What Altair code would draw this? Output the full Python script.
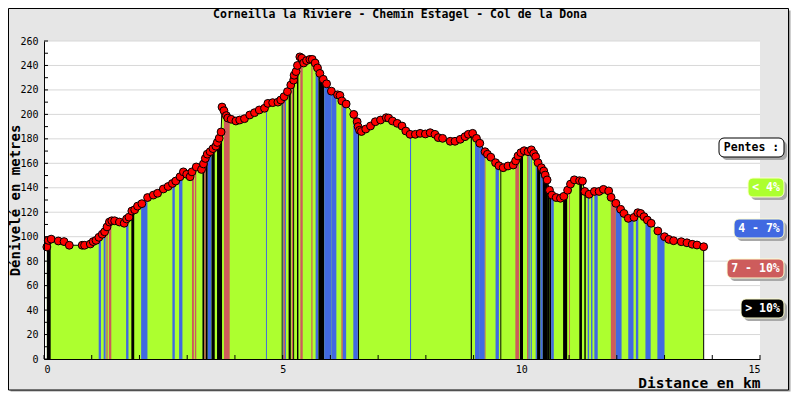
import altair as alt
import pandas as pd

# ---------------- data ----------------
dist_km = [0.06, 0.09, 0.15, 0.30, 0.42, 0.53, 0.80, 0.85, 0.97, 1.03, 1.09, 1.15, 1.22, 1.27, 1.32,
           1.37, 1.42, 1.48, 1.58, 1.68, 1.73, 1.78, 1.84, 1.90, 1.96, 2.05, 2.17, 2.29, 2.38, 2.50,
           2.60, 2.69, 2.76, 2.85, 2.92, 2.99, 3.06, 3.10, 3.19, 3.30, 3.34, 3.38, 3.42, 3.48, 3.54,
           3.60, 3.63, 3.67, 3.71, 3.73, 3.77, 3.82, 3.85, 3.92, 4.02, 4.10, 4.20, 4.31, 4.41, 4.51,
           4.62, 4.69, 4.79, 4.90, 4.96, 5.03, 5.10, 5.17, 5.23, 5.24, 5.28, 5.31, 5.36, 5.40, 5.44,
           5.50, 5.57, 5.62, 5.68, 5.73, 5.78, 5.85, 5.92, 6.02, 6.15, 6.20, 6.24, 6.33, 6.49, 6.56,
           6.58, 6.61, 6.65, 6.74, 6.84, 6.94, 7.05, 7.17, 7.22, 7.30, 7.40, 7.50, 7.58, 7.67, 7.78,
           7.88, 7.99, 8.09, 8.19, 8.26, 8.35, 8.51, 8.61, 8.72, 8.82, 8.89, 8.98, 9.06, 9.13, 9.24,
           9.29, 9.36, 9.46, 9.53, 9.62, 9.72, 9.83, 9.88, 9.93, 9.99, 10.06, 10.14, 10.21, 10.26, 10.30,
           10.35, 10.42, 10.47, 10.50, 10.54, 10.59, 10.64, 10.73, 10.82, 10.89, 10.97, 11.03, 11.11, 11.22, 11.28,
           11.33, 11.42, 11.53, 11.63, 11.72, 11.83, 11.88, 11.98, 12.08, 12.15, 12.24, 12.36, 12.44, 12.50, 12.57,
           12.64, 12.72, 12.86, 13.00, 13.09, 13.19, 13.35, 13.47, 13.58, 13.68, 13.82]
elev_m = [91.6, 97, 98, 96.5, 96, 93, 93, 93, 94, 96, 97, 99.5, 102, 104, 108,
          112, 113, 113, 112, 111, 114.5, 116, 121, 122, 125, 127, 132, 134, 135.5, 139,
          141, 143.5, 145.5, 149, 153, 151, 149, 153, 157, 155, 159.5, 164, 167.5, 169.5, 172,
          174, 177, 180.5, 185.6, 206, 203, 199, 197, 196, 194.6, 195.4, 196.5, 199.5, 201.4, 203.6,
          205, 209, 209.6, 210, 211.8, 214.5, 218.6, 224, 228, 232, 235, 240, 247, 246, 242,
          244, 245, 245, 242, 238, 233.5, 228.7, 225, 219, 216, 215.5, 211, 208.5, 200, 194,
          190, 187, 186, 188, 190.5, 194, 195.4, 197.3, 197, 194.6, 192.7, 190.5, 186.4, 183.7, 183.7,
          184.5, 184, 185, 183.7, 181, 180.4, 178, 178, 179.6, 181.8, 183.7, 184.5, 180.4, 176.4, 169.5,
          167.4, 165, 160.5, 158, 156.4, 157.8, 158.6, 162, 166, 168.7, 170.3, 169.5, 171, 168, 165.4,
          160.5, 156.4, 153.7, 150.4, 146.4, 138, 134, 132, 131.4, 133, 138, 143, 146.5, 145.8, 145.5,
          137, 134.7, 137, 137, 138.7, 137.4, 132.2, 127.3, 122.4, 119, 115, 115.8, 119.6, 119, 116.4,
          113.6, 111, 104.7, 100, 97.8, 96.7, 95.9, 95, 93.8, 93.2, 91.8]

# slope stripes (segments steeper than 4 %)
stripe_start = [0.06, 1.146, 1.25, 1.306, 1.36, 1.72, 1.83, 2.035, 2.69, 2.83,
                3.10, 3.16, 3.32, 3.36, 3.39, 3.43, 3.51, 3.625, 3.77, 4.65,
                4.98, 5.00, 5.02, 5.05, 5.125, 5.19, 5.22, 5.30, 5.37, 5.60,
                5.69, 5.75, 5.87, 6.02, 6.23, 6.26, 6.48, 6.56, 6.58, 7.667,
                8.94, 9.03, 9.13, 9.235, 9.46, 9.56, 9.875, 9.97, 10.12, 10.15,
                10.195, 10.30, 10.33, 10.40, 10.45, 10.54, 10.59, 10.625, 10.875, 11.00,
                11.215, 11.32, 11.39, 11.46, 11.53, 11.875, 11.98, 12.24, 12.40, 12.60,
                12.85]
stripe_end = [0.14, 1.194, 1.29, 1.333, 1.41, 1.77, 1.89, 2.167, 2.74, 2.90,
              3.14, 3.19, 3.36, 3.39, 3.43, 3.51, 3.577, 3.73, 3.89, 4.67,
              5.00, 5.02, 5.05, 5.07, 5.17, 5.22, 5.24, 5.33, 5.42, 5.625,
              5.75, 5.87, 6.02, 6.125, 6.26, 6.33, 6.56, 6.58, 6.60, 7.69,
              8.965, 9.13, 9.235, 9.25, 9.53, 9.58, 9.95, 10.035, 10.15, 10.175,
              10.22, 10.33, 10.40, 10.45, 10.54, 10.59, 10.625, 10.68, 10.96, 11.02,
              11.27, 11.35, 11.42, 11.49, 11.60, 11.98, 12.10, 12.35, 12.45, 12.71,
              13.00]
stripe_top_start = [91.6, 99, 103, 106.7, 111, 113.6, 120, 126.5, 143.3, 148,
                    152.8, 155.5, 157, 161.5, 164.7, 167.6, 170.1, 176.3, 203, 206.5,
                    212.4, 213.1, 214, 215.6, 220.3, 225.1, 227.1, 238, 243.5, 244.5,
                    241, 236, 227.4, 218.8, 212, 210.2, 200.4, 194, 190, 183.6,
                    184, 182, 176.3, 169.8, 160.5, 157.4, 161.6, 167.7, 169.6, 169.6,
                    170.6, 165.3, 162.4, 157.5, 154.7, 146.3, 137.9, 135.1, 132.6, 140.4,
                    145.7, 138.6, 135.4, 135.4, 136.9, 132.6, 127.2, 114.9, 117.6, 115.1,
                    105.1]
stripe_top_end = [97.5, 100.8, 105.4, 108.8, 112.6, 115.5, 121.6, 131.7, 144.7, 151.7,
                  154.6, 156.8, 161.5, 164.7, 167.6, 170.1, 173, 186, 196.2, 207.7,
                  213.1, 214, 215.6, 216.8, 223.8, 227.1, 231.8, 240, 242, 244.5,
                  236, 227.4, 218.8, 216.4, 210.2, 208.3, 194, 190, 188, 183.6,
                  184.3, 176.3, 169.8, 169, 158, 157, 166.8, 169.6, 169.6, 170.1,
                  170.3, 162.4, 157.5, 154.7, 146.3, 137.9, 135.1, 133, 137.3, 142.1,
                  145.4, 136.4, 134.6, 136.1, 136.9, 127.2, 121.3, 115.6, 119.4, 111.2,
                  99.9]
stripe_class = ["> 10%", "4 - 7%", "4 - 7%", "7 - 10%", "7 - 10%", "4 - 7%", "> 10%", "4 - 7%", "4 - 7%", "4 - 7%",
                "7 - 10%", "7 - 10%", "> 10%", "7 - 10%", "> 10%", "4 - 7%", "> 10%", "> 10%", "7 - 10%", "4 - 7%",
                "> 10%", "4 - 7%", "7 - 10%", "4 - 7%", "> 10%", "7 - 10%", "> 10%", "> 10%", "7 - 10%", "7 - 10%",
                "4 - 7%", "> 10%", "4 - 7%", "4 - 7%", "7 - 10%", "4 - 7%", "4 - 7%", "4 - 7%", "> 10%", "4 - 7%",
                "> 10%", "4 - 7%", "4 - 7%", "7 - 10%", "4 - 7%", "> 10%", "7 - 10%", "> 10%", "7 - 10%", "4 - 7%",
                "4 - 7%", "4 - 7%", "> 10%", "4 - 7%", "> 10%", "> 10%", "> 10%", "4 - 7%", "> 10%", "7 - 10%",
                "> 10%", "> 10%", "4 - 7%", "4 - 7%", "4 - 7%", "7 - 10%", "4 - 7%", "4 - 7%", "4 - 7%", "4 - 7%",
                "4 - 7%"]

slope_classes = ["< 4%", "4 - 7%", "7 - 10%", "> 10%"]
slope_colors = ["#ADFF2F", "#4169E1", "#CD5C5C", "#000000"]
legend_title = "Pentes :"
chart_title = "Corneilla la Riviere - Chemin Estagel - Col de la Dona"
x_title = "Distance en km"
y_title = "Dénivelé en metres"
y_label_values = [0, 20, 40, 60, 80, 100, 120, 140, 160, 180, 200, 220, 240, 260]
y_tick_values = [0, 10, 20, 30, 40, 50, 60, 70, 80, 90, 100, 110, 120, 130, 140, 150, 160, 170, 180,
                 190, 200, 210, 220, 230, 240, 250, 260]
x_label_values = [0, 5, 10, 15]
x_tick_values = [0, 1, 2, 3, 4, 5, 6, 7, 8, 9, 10, 11, 12, 13, 14, 15]

# ---------------- layout ----------------
W, H = 716, 318
FONT = "DejaVu Sans Mono"

profile = pd.DataFrame({"km": dist_km, "m": elev_m})
rows = []
for i, (s, e, t0, t1, c) in enumerate(zip(stripe_start, stripe_end, stripe_top_start, stripe_top_end, stripe_class)):
    rows.append({"km": s, "m": t0, "cls": c, "sid": i})
    rows.append({"km": e, "m": t1, "cls": c, "sid": i})
stripes = pd.DataFrame(rows)
end_pt = pd.DataFrame({"km": [dist_km[-1]], "m": [elev_m[-1]], "m0": [0]})

x_scale = alt.Scale(domain=[0, 15], nice=False, zero=False)
y_scale = alt.Scale(domain=[0, 260], nice=False)

x_axis = alt.Axis(values=x_label_values, ticks=False, grid=False, domainColor="black",
                  labelFont=FONT, labelFontSize=10, labelColor="black", labelPadding=5,
                  title=x_title, titleFont=FONT, titleFontSize=14.5, titleFontWeight="bold",
                  titleColor="black", titleX=W, titleY=28.5, titleAlign="right",
                  titleBaseline="alphabetic", zindex=1)
y_axis = alt.Axis(values=y_label_values, ticks=False, grid=False, domainColor="black",
                  labelFont=FONT, labelFontSize=10, labelColor="black", labelPadding=6,
                  title=y_title, titleFont=FONT, titleFontSize=14, titleFontWeight="bold",
                  titleColor="black", titleX=-29, titleY=H / 2, titleAngle=270,
                  titleAlign="center", titleBaseline="middle", zindex=1)


def X(f):
    return alt.X(f, type="quantitative", scale=x_scale, axis=x_axis)


def Y(f):
    return alt.Y(f, type="quantitative", scale=y_scale, axis=y_axis, stack=None)


one = pd.DataFrame({"k": [0]})


def box(x0, x1, y0, y1, **kw):
    return alt.Chart(one).mark_rect(**kw).encode(
        x=alt.value(x0), x2=alt.value(x1), y=alt.value(y0), y2=alt.value(y1))


# frame, shadow and white plot background
shadow = box(-33.5, 746.5, -30.5, 350.5, fill="#A0A0A0")
frame = box(-35.5, 744.5, -32.5, 349, fill="#E6E6E6", stroke="black", strokeWidth=1)
plot_bg = box(0, W, 0, H, fill="white")

title_layer = alt.Chart(pd.DataFrame({"t": [chart_title]})).mark_text(
    font=FONT, fontSize=11.5, fontWeight="bold", color="black", align="center",
    baseline="alphabetic").encode(x=alt.value(W / 2 - 2), y=alt.value(-23), text="t:N")

grid = alt.Chart(pd.DataFrame({"v": y_label_values[1:]})).mark_rule(
    color="#D8D8D8", strokeWidth=1).encode(y=Y("v"))

green = alt.Chart(profile).mark_area(color=slope_colors[0], opacity=1).encode(
    x=X("km"), y=Y("m"))

stripe_layer = alt.Chart(stripes).mark_area(opacity=1).encode(
    x=X("km"), y=Y("m"),
    color=alt.Color("cls:N", scale=alt.Scale(domain=slope_classes, range=slope_colors), legend=None),
    detail="sid:N")

outline = alt.Chart(profile).mark_line(color="black", strokeWidth=1).encode(x=X("km"), y=Y("m"))
end_edge = alt.Chart(end_pt).mark_rule(color="black", strokeWidth=1).encode(
    x=X("km"), y=Y("m"), y2="m0")

y_ticks = alt.Chart(pd.DataFrame({"v": y_tick_values})).mark_rule(color="black").encode(
    y=Y("v"), x=alt.value(0), x2=alt.value(4))
x_ticks = alt.Chart(pd.DataFrame({"v": x_tick_values})).mark_rule(color="black").encode(
    x=X("v"), y=alt.value(H), y2=alt.value(H - 4))

dots = alt.Chart(profile).mark_circle(color="#FF0000", stroke="black", strokeWidth=1,
                                      size=62, opacity=1).encode(x=X("km"), y=Y("m"))

# legend boxes
legend_layers = []
legend_items = [
    (legend_title, 675, 740, 97, 116, "white", "black", "black"),
    (slope_classes[0], 704, 740, 137, 156, slope_colors[0], "#FFFFD0", "white"),
    (slope_classes[1], 690, 740, 178, 197, slope_colors[1], "#FFFFD0", "white"),
    (slope_classes[2], 683, 740, 218, 237, slope_colors[2], "#FFFFD0", "white"),
    (slope_classes[3], 697, 740, 258, 277, slope_colors[3], "#FFFFD0", "white"),
]
for label, x0, x1, y0, y1, fill, stroke, tcolor in legend_items:
    legend_layers.append(box(x0 + 3, x1 + 3, y0 + 3, y1 + 3, fill="#A8A8A8", cornerRadius=5))
    legend_layers.append(box(x0, x1, y0, y1, fill=fill, stroke=stroke, strokeWidth=1, cornerRadius=5))
    legend_layers.append(
        alt.Chart(pd.DataFrame({"label": [label]})).mark_text(
            font=FONT, fontSize=11.5, fontWeight="bold", color=tcolor, align="center",
            baseline="middle").encode(
            x=alt.value((x0 + x1) / 2), y=alt.value((y0 + y1) / 2 + 0.5), text="label:N"))

chart = alt.layer(
    shadow, frame, plot_bg, title_layer, grid, green, stripe_layer, outline, end_edge,
    y_ticks, x_ticks, dots, *legend_layers
).properties(
    width=W, height=H,
    padding={"left": 36, "top": 33, "right": 32, "bottom": 33},
    autosize=alt.AutoSizeParams(type="none"),
).configure(background="white").configure_view(strokeWidth=0)

chart.save("out.html", embed_options={"renderer": "svg", "actions": False})
